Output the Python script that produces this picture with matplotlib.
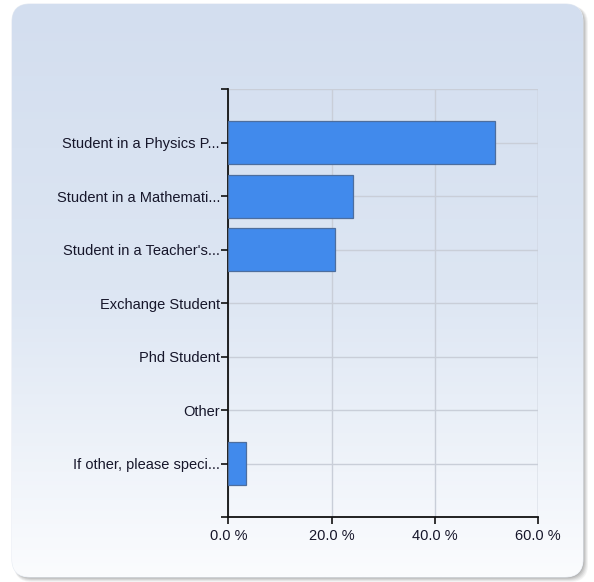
import numpy as np
import matplotlib.pyplot as plt
from matplotlib.patches import FancyBboxPatch
from matplotlib.colors import LinearSegmentedColormap

plt.rcParams['font.family'] = ['Liberation Sans', 'DejaVu Sans']

categories = ["Student in a Physics P...", "Student in a Mathemati...",
              "Student in a Teacher's...", "Exchange Student", "Phd Student",
              "Other", "If other, please speci..."]
percent = [51.7, 24.1, 20.7, 0.0, 0.0, 0.0, 3.4]
xticks = [0, 20, 40, 60]
xtick_labels = ["0.0 %", "20.0 %", "40.0 %", "60.0 %"]

W, H = 594, 582
fig = plt.figure(figsize=(W / 100, H / 100), dpi=100)
fig.patch.set_facecolor('white')

# rounded panel with soft shadow and vertical gradient
bg = fig.add_axes([0, 0, 1, 1])
bg.set_xlim(0, W)
bg.set_ylim(H, 0)
bg.axis('off')

px0, py0, px1, py1 = 12, 4, 583, 577
for i, a in enumerate([0.08, 0.10, 0.13, 0.16, 0.22]):
    off = 5 - i
    sh = FancyBboxPatch((px0 + 2, py0 + 2), px1 - px0 - 2 + off, py1 - py0 - 2 + off,
                        boxstyle="round,pad=0,rounding_size=18",
                        fc='#6f6f6f', ec='none', alpha=a)
    bg.add_patch(sh)

panel = FancyBboxPatch((px0, py0), px1 - px0, py1 - py0,
                       boxstyle="round,pad=0,rounding_size=18",
                       fc='none', ec='#e6ebf3', lw=0.8)
bg.add_patch(panel)
cmap = LinearSegmentedColormap.from_list('panel', ['#d3deef', '#dde6f3', '#fbfcfe'])
grad = np.linspace(0, 1, 256).reshape(-1, 1)
img = bg.imshow(grad, cmap=cmap, extent=[px0, px1, py1, py0], aspect='auto', zorder=1)
img.set_clip_path(panel)

# bar chart
ax = fig.add_axes([228.3 / W, 1 - 517 / H, (538.3 - 228.3) / W, (517 - 89.3) / H])
ax.set_facecolor('none')
y = np.arange(len(categories))
edges = ['#4d6e9e' if v > 0 else 'none' for v in percent]
ax.barh(y, percent, height=0.8, color='#418aec', edgecolor=edges, linewidth=0.9, zorder=3)

ax.set_xlim(0, 60)
ax.set_ylim(7, -1)
ax.set_xticks(xticks)
ax.set_xticklabels(xtick_labels)
ax.set_yticks(y)
ax.set_yticklabels(categories)
ax.set_yticks([-1, 7], minor=True)
ax.tick_params(axis='y', which='both', length=5, width=1.2, color='#111111', pad=1,
               labelsize=10.5, labelcolor='#16162a')
ax.tick_params(axis='x', length=5, width=1.2, color='#111111', pad=4,
               labelsize=10.5, labelcolor='#16162a')

ax.grid(True, color='#c9ced8', linewidth=1.0, zorder=0)
ax.set_axisbelow(True)
for s in ['top', 'right']:
    ax.spines[s].set_visible(False)
for s in ['left', 'bottom']:
    ax.spines[s].set_color('#111111')
    ax.spines[s].set_linewidth(1.3)
ax.axhline(-1, color='#c9ced8', linewidth=1.0, zorder=0)
ax.axvline(60, color='#c9ced8', linewidth=1.0, zorder=0)

fig.savefig('out.png', dpi=100)
